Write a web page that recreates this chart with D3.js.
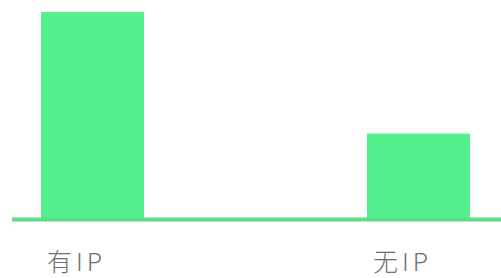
<!DOCTYPE html>
<html><head><meta charset="utf-8">
<script src="https://cdn.jsdelivr.net/npm/d3@7"></script>
<style>html,body{margin:0;padding:0;background:#fff;overflow:hidden}</style>
</head><body>
<svg id="chart" width="501" height="278"></svg>
<script>
const categories = ["有IP", "无IP"];
const values = [100, 41];

const svg = d3.select("#chart");
const baseY = 218;
const x = d3.scaleBand().domain(categories).range([41, 470]).paddingInner(0.684).paddingOuter(0);
const y = d3.scaleLinear().domain([0, 100]).range([baseY, 12]);

svg.selectAll("rect.bar").data(categories).join("rect")
  .attr("class", "bar")
  .attr("x", d => x(d))
  .attr("width", x.bandwidth())
  .attr("y", (d, i) => y(values[i]))
  .attr("height", (d, i) => y(0) - y(values[i]))
  .attr("fill", "#55f08e");

svg.append("line")
  .attr("x1", 12).attr("x2", 501)
  .attr("y1", baseY + 1.5).attr("y2", baseY + 1.5)
  .attr("stroke", "#5edc8a").attr("stroke-width", 4);

svg.selectAll("text.lbl").data(categories).join("text")
  .attr("class", "lbl")
  .attr("x", d => x(d) + 6)
  .attr("y", 271)
  .attr("fill", "#6f6f6f")
  .attr("font-family", "'Noto Sans CJK SC', 'Noto Sans', sans-serif")
  .attr("font-weight", 300)
  .attr("font-size", 25)
  .attr("letter-spacing", 4)
  .text(d => d);
</script>
</body></html>
